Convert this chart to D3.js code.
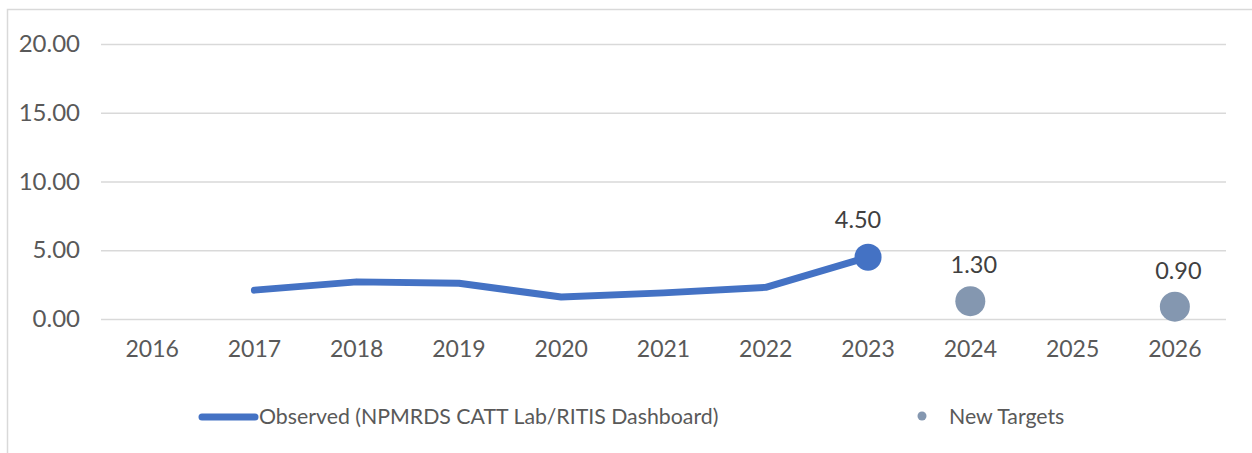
<!DOCTYPE html>
<html><head><meta charset="utf-8">
<script src="https://cdn.jsdelivr.net/npm/d3@7"></script>
<style>body{margin:0;background:#fff;}svg{display:block;}svg text{font-family:Lato,"Open Sans",sans-serif;}</style>
</head><body>
<script>
const years = ["2016","2017","2018","2019","2020","2021","2022","2023","2024","2025","2026"];
const observedYears = ["2017","2018","2019","2020","2021","2022","2023"];
const observedValues = [2.1, 2.7, 2.6, 1.6, 1.9, 2.3, 4.5];
const targetYears = ["2024","2026"];
const targetValues = [1.3, 0.9];
const yTicks = [0, 5, 10, 15, 20];
const legendLabels = ["Observed (NPMRDS CATT Lab/RITIS Dashboard)", "New Targets"];

const W = 1252, H = 453;
const FONT = 'Lato, "Open Sans", sans-serif';
const svg = d3.select("body").append("svg").attr("width", W).attr("height", H);
svg.append("rect").attr("x", 7.5).attr("y", 9.5).attr("width", W).attr("height", H).attr("fill", "#fff").attr("stroke", "#d9d9d9").attr("stroke-width", 1.5);

const x = d3.scaleBand().domain(years).range([101, 1226]);
const y = d3.scaleLinear().domain([0, 20]).range([319, 44]);

const yAxis = svg.append("g").attr("transform", "translate(101,0)")
  .call(d3.axisLeft(y).tickValues(yTicks).tickSize(-1125).tickFormat(d3.format(".2f")).tickPadding(21))
  .attr("font-family", FONT);
yAxis.select(".domain").remove();
yAxis.selectAll("line").attr("stroke", "#d9d9d9").attr("stroke-width", 1.5);
yAxis.selectAll("text").attr("fill", "#595959").style("font-size", "24px");

const xAxis = svg.append("g").attr("transform", "translate(0,319)")
  .call(d3.axisBottom(x).tickSize(0).tickPadding(22))
  .attr("font-family", FONT);
xAxis.select(".domain").remove();
xAxis.selectAll("text").attr("fill", "#595959").style("font-size", "23px");

const obs = observedYears.map((d, i) => ({year: d, v: observedValues[i]}));
const cx = d => x(d) + x.bandwidth() / 2;
svg.append("path").datum(obs)
  .attr("d", d3.line().x(d => cx(d.year)).y(d => y(d.v)))
  .attr("fill", "none").attr("stroke", "#4472C4").attr("stroke-width", 7).attr("stroke-linecap", "round").attr("stroke-linejoin", "round");

const last = obs[obs.length - 1];
svg.append("circle").attr("cx", cx(last.year)).attr("cy", y(last.v)).attr("r", 13.5).attr("fill", "#4472C4");
svg.append("text").attr("x", cx(last.year) - 10).attr("y", y(last.v) - 29).attr("text-anchor", "middle")
  .attr("fill", "#404040").style("font-size", "23.5px").text(d3.format(".2f")(last.v));

const tgt = targetYears.map((d, i) => ({year: d, v: targetValues[i]}));
svg.selectAll(".tgt").data(tgt).enter().append("circle")
  .attr("cx", d => cx(d.year)).attr("cy", d => y(d.v)).attr("r", 15).attr("fill", "#8497B0");
svg.selectAll(".tgtl").data(tgt).enter().append("text")
  .attr("x", d => cx(d.year) + 3.5).attr("y", d => y(d.v) - 28).attr("text-anchor", "middle")
  .attr("fill", "#404040").style("font-size", "23.5px").text(d => d3.format(".2f")(d.v));

// legend
const lg = svg.append("g");
lg.append("line").attr("x1", 202).attr("x2", 255).attr("y1", 417).attr("y2", 417)
  .attr("stroke", "#4472C4").attr("stroke-width", 7).attr("stroke-linecap", "round");
lg.append("text").attr("x", 259).attr("y", 424).attr("fill", "#595959").style("font-size", "21.3px").text(legendLabels[0]);
lg.append("circle").attr("cx", 922).attr("cy", 416).attr("r", 4.5).attr("fill", "#8497B0");
lg.append("text").attr("x", 949).attr("y", 424).attr("fill", "#595959").style("font-size", "21.3px").text(legendLabels[1]);
</script>
</body></html>
